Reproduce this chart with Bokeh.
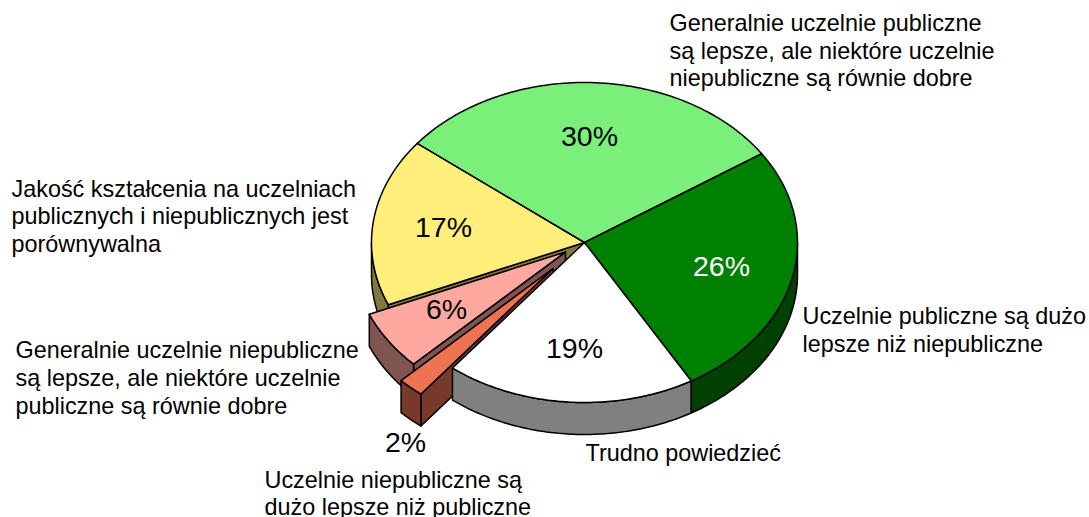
import numpy as np
from bokeh.plotting import figure
from bokeh.embed import file_html
from bokeh.resources import INLINE
from bokeh.core.properties import value

# ---- data
categories = ["Generalnie uczelnie publiczne\nsą lepsze, ale niektóre uczelnie\nniepubliczne są równie dobre",
              "Uczelnie publiczne są dużo\nlepsze niż niepubliczne",
              "Trudno powiedzieć",
              "Uczelnie niepubliczne są\ndużo lepsze niż publiczne",
              "Generalnie uczelnie niepubliczne\nsą lepsze, ale niektóre uczelnie\npubliczne są równie dobre",
              "Jakość kształcenia na uczelniach\npublicznych i niepublicznych jest\nporównywalna"]
shares = [30, 26, 19, 2, 6, 17]
top_colors = ["#7AF07A", "#008000", "#FFFFFF", "#EE7350", "#FFA8A0", "#FFEF7A"]
wall_colors = ["#3D783D", "#004000", "#808080", "#77392A", "#805450", "#80783D"]
pct_colors = ["black", "white", "black", "black", "black", "black"]

# ---- layout (page pixels)
W, H = 1089, 517
CX, CY, RX, RY, DEPTH = 584, 242, 213, 160, 32
START = 141.7
explode = [(0, 0), (0, 0), (0, 0), (-31.5, 26), (-19, 9.5), (0, 0)]
pct_pos = [(589, 135), (721, 265), (574, 347), (405, 441), (446, 308), (443, 226)]
label_pos = [(669, 22.5), (802, 315), (585, 452), (264, 479.5), (15, 349), (11, 188)]
LINE_H = [27.5, 28, 28, 27, 28, 27.5]

p = figure(width=W, height=H, x_range=(0, W), y_range=(H, 0),
           toolbar_location=None, output_backend="svg", min_border=0,
           outline_line_color=None)
p.axis.visible = False
p.grid.visible = False

edges = START - 3.6 * np.concatenate([[0], np.cumsum(shares)])
starts, ends = edges[:-1], edges[1:]   # clockwise: start > end


def pt(a, off=(0, 0), dz=0):
    r = np.radians(a)
    return CX + off[0] + RX * np.cos(r), CY + off[1] - RY * np.sin(r) + dz


def arc(a0, a1, off=(0, 0), dz=0):
    aa = np.linspace(a0, a1, 90)
    return pt(aa, off, dz)


def draw(xs, ys, fill):
    p.patch(list(xs), list(ys), fill_color=fill, line_color="black", line_width=1.5, line_join="round")


def top(i):
    x, y = arc(starts[i], ends[i], explode[i])
    cx, cy = CX + explode[i][0], CY + explode[i][1]
    draw(np.r_[cx, x], np.r_[cy, y], top_colors[i])


def outer_wall(i, a0=None, a1=None):
    a0 = starts[i] if a0 is None else a0
    a1 = ends[i] if a1 is None else a1
    x, y = arc(a0, a1, explode[i])
    x2, y2 = arc(a1, a0, explode[i], DEPTH)
    draw(np.r_[x, x2], np.r_[y, y2], wall_colors[i])


def cut_wall(i, a):
    cx, cy = CX + explode[i][0], CY + explode[i][1]
    ex, ey = pt(a, explode[i])
    draw([cx, ex, ex, cx], [cy, ey, ey + DEPTH, cy + DEPTH], wall_colors[i])


# walls seen behind the exploded slices
cut_wall(5, starts[5])
outer_wall(5, starts[5], -180)
# exploded slices' walls
cut_wall(4, starts[4])
outer_wall(4)
cut_wall(3, starts[3])
outer_wall(3)
# main pie
outer_wall(2)
outer_wall(1, 0, ends[1])
for i in [5, 0, 1, 2]:
    top(i)
# exploded tops
top(4)
top(3)

# percent labels
for i in range(len(shares)):
    p.text([pct_pos[i][0]], [pct_pos[i][1]], text=[f"{shares[i]:.0f}%"], text_color=pct_colors[i],
           text_font=value("Liberation Sans"), text_font_size="28.5px",
           text_align="center", text_baseline="middle")

# category labels
for i, c in enumerate(categories):
    for j, line in enumerate(c.split("\n")):
        p.text([label_pos[i][0]], [label_pos[i][1] + j * LINE_H[i]], text=[line], text_color="black",
               text_font=value("Liberation Sans"), text_font_size="23.4px",
               text_align="left", text_baseline="middle")

open("out.html", "w").write(file_html(p, INLINE))
